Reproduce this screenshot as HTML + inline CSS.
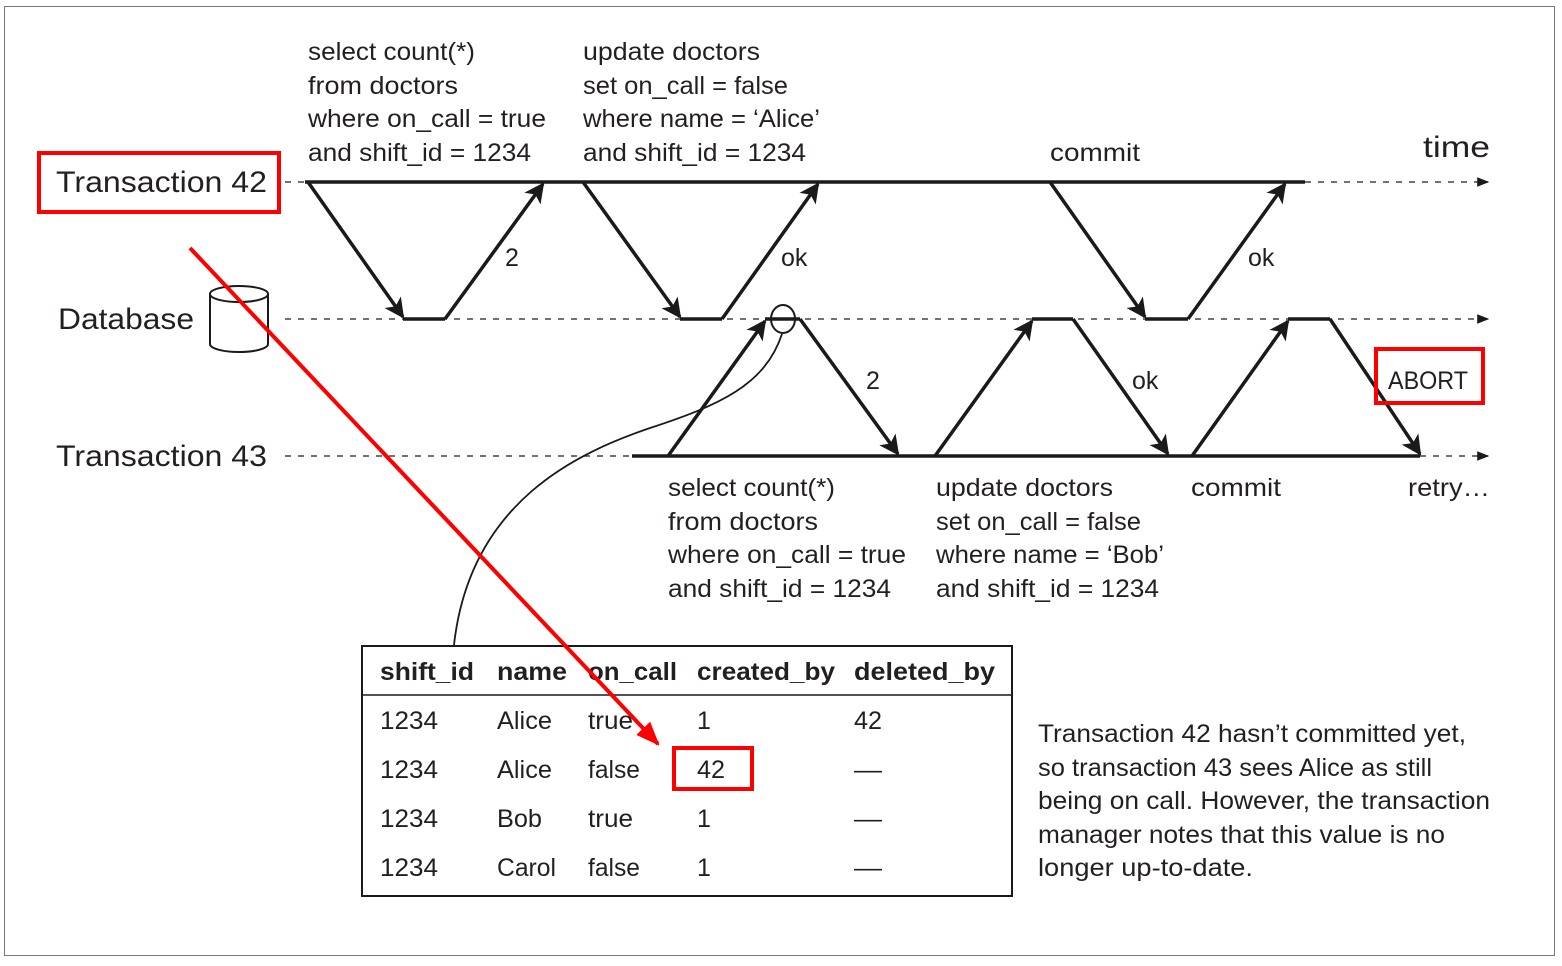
<!DOCTYPE html>
<html><head><meta charset="utf-8"><style>
html,body{margin:0;padding:0;background:#fff;}
svg{display:block;}
text{font-family:"Liberation Sans",sans-serif;fill:#231f20;}
</style></head><body>
<svg width="1562" height="966" viewBox="0 0 1562 966" xmlns="http://www.w3.org/2000/svg">
<defs>
<marker id="ah" viewBox="0 0 20 20" refX="18" refY="10" markerWidth="20" markerHeight="20" markerUnits="userSpaceOnUse" orient="auto">
<path d="M0,0 L20,10 L0,20 L5,10 Z" fill="#1a1a1a"/></marker>
<marker id="sa" viewBox="0 0 10 10" refX="9" refY="5" markerWidth="12" markerHeight="12" markerUnits="userSpaceOnUse" orient="auto">
<path d="M0,1 L10,5 L0,9 Z" fill="#1a1a1a"/></marker>
<marker id="ra" viewBox="0 0 20 20" refX="18" refY="10" markerWidth="24" markerHeight="24" markerUnits="userSpaceOnUse" orient="auto">
<path d="M0,2 L20,10 L0,18 Z" fill="#f00"/></marker>
</defs>
<rect x="4.5" y="6.5" width="1550" height="949" fill="none" stroke="#777" stroke-width="1"/>

<g stroke="#444" stroke-width="1.5" stroke-dasharray="6,7" fill="none">
<line x1="285" y1="182" x2="305" y2="182"/>
<line x1="1305" y1="182" x2="1488" y2="182" marker-end="url(#sa)"/>
<line x1="285" y1="319" x2="1488" y2="319" marker-end="url(#sa)"/>
<line x1="285" y1="456" x2="632" y2="456"/>
<line x1="1420" y1="456" x2="1488" y2="456" marker-end="url(#sa)"/>
</g>
<g stroke="#1a1a1a" stroke-width="3.5" fill="none">
<line x1="305" y1="182" x2="1305" y2="182"/>
<line x1="632" y1="456" x2="1420" y2="456"/>
<line x1="403" y1="319" x2="445" y2="319"/>
<line x1="680" y1="319" x2="722" y2="319"/>
<line x1="1145" y1="319" x2="1188" y2="319"/>
<line x1="765" y1="319" x2="800" y2="319"/>
<line x1="1032" y1="319" x2="1073" y2="319"/>
<line x1="1288" y1="319" x2="1330" y2="319"/>
<line x1="308" y1="182" x2="403" y2="317" marker-end="url(#ah)"/>
<line x1="445" y1="319" x2="543" y2="184" marker-end="url(#ah)"/>
<line x1="583" y1="182" x2="680" y2="317" marker-end="url(#ah)"/>
<line x1="722" y1="319" x2="818" y2="184" marker-end="url(#ah)"/>
<line x1="1050" y1="182" x2="1145" y2="317" marker-end="url(#ah)"/>
<line x1="1188" y1="319" x2="1285" y2="184" marker-end="url(#ah)"/>
<line x1="668" y1="456" x2="765" y2="321" marker-end="url(#ah)"/>
<line x1="800" y1="319" x2="898" y2="454" marker-end="url(#ah)"/>
<line x1="935" y1="456" x2="1032" y2="321" marker-end="url(#ah)"/>
<line x1="1073" y1="319" x2="1168" y2="454" marker-end="url(#ah)"/>
<line x1="1192" y1="456" x2="1288" y2="321" marker-end="url(#ah)"/>
<line x1="1330" y1="319" x2="1420" y2="454" marker-end="url(#ah)"/>
</g>
<ellipse cx="783" cy="319" rx="12" ry="14" fill="none" stroke="#1a1a1a" stroke-width="2"/>
<path d="M782,334 C765,385 720,405 650,428 C580,452 470,500 454,645" fill="none" stroke="#1a1a1a" stroke-width="1.8"/>

<g fill="#fff" stroke="#1a1a1a" stroke-width="2">
<path d="M210,294 L210,344 A29,8 0 0 0 268,344 L268,294"/>
<ellipse cx="239" cy="294" rx="29" ry="8"/>
</g>

<g font-size="30">
<text x="56" y="192" textLength="211" lengthAdjust="spacingAndGlyphs">Transaction 42</text>
<text x="58" y="329" textLength="136" lengthAdjust="spacingAndGlyphs">Database</text>
<text x="56" y="466" textLength="211" lengthAdjust="spacingAndGlyphs">Transaction 43</text>
<text x="1423" y="157" textLength="67" lengthAdjust="spacingAndGlyphs">time</text>
</g>
<g font-size="25">
<text x="308" y="60" textLength="167" lengthAdjust="spacingAndGlyphs">select count(*)</text>
<text x="308" y="94" textLength="150" lengthAdjust="spacingAndGlyphs">from doctors</text>
<text x="308" y="127" textLength="238" lengthAdjust="spacingAndGlyphs">where on_call = true</text>
<text x="308" y="161" textLength="223" lengthAdjust="spacingAndGlyphs">and shift_id = 1234</text>
<text x="583" y="60" textLength="177" lengthAdjust="spacingAndGlyphs">update doctors</text>
<text x="583" y="94" textLength="205" lengthAdjust="spacingAndGlyphs">set on_call = false</text>
<text x="583" y="127" textLength="237" lengthAdjust="spacingAndGlyphs">where name = ‘Alice’</text>
<text x="583" y="161" textLength="223" lengthAdjust="spacingAndGlyphs">and shift_id = 1234</text>
<text x="1050" y="161" textLength="90" lengthAdjust="spacingAndGlyphs">commit</text>
<text x="505" y="266">2</text>
<text x="781" y="266">ok</text>
<text x="1248" y="266">ok</text>
<text x="866" y="389">2</text>
<text x="1132" y="389">ok</text>
<text x="668" y="496" textLength="167" lengthAdjust="spacingAndGlyphs">select count(*)</text>
<text x="668" y="530" textLength="150" lengthAdjust="spacingAndGlyphs">from doctors</text>
<text x="668" y="563" textLength="238" lengthAdjust="spacingAndGlyphs">where on_call = true</text>
<text x="668" y="597" textLength="223" lengthAdjust="spacingAndGlyphs">and shift_id = 1234</text>
<text x="936" y="496" textLength="177" lengthAdjust="spacingAndGlyphs">update doctors</text>
<text x="936" y="530" textLength="205" lengthAdjust="spacingAndGlyphs">set on_call = false</text>
<text x="936" y="563" textLength="228" lengthAdjust="spacingAndGlyphs">where name = ‘Bob’</text>
<text x="936" y="597" textLength="223" lengthAdjust="spacingAndGlyphs">and shift_id = 1234</text>
<text x="1191" y="496" textLength="90" lengthAdjust="spacingAndGlyphs">commit</text>
<text x="1408" y="496" textLength="82" lengthAdjust="spacingAndGlyphs">retry…</text>
<text x="1388" y="389" textLength="80" lengthAdjust="spacingAndGlyphs">ABORT</text>
<text x="1038" y="742" textLength="428" lengthAdjust="spacingAndGlyphs">Transaction 42 hasn’t committed yet,</text>
<text x="1038" y="776" textLength="394" lengthAdjust="spacingAndGlyphs">so transaction 43 sees Alice as still</text>
<text x="1038" y="809" textLength="452" lengthAdjust="spacingAndGlyphs">being on call. However, the transaction</text>
<text x="1038" y="843" textLength="407" lengthAdjust="spacingAndGlyphs">manager notes that this value is no</text>
<text x="1038" y="876" textLength="215" lengthAdjust="spacingAndGlyphs">longer up-to-date.</text>
</g>

<rect x="362" y="646" width="650" height="250" fill="none" stroke="#1a1a1a" stroke-width="2"/>
<line x1="362" y1="695" x2="1012" y2="695" stroke="#1a1a1a" stroke-width="1.5"/>
<g font-size="25" font-weight="bold">
<text x="380" y="680" textLength="94" lengthAdjust="spacingAndGlyphs">shift_id</text>
<text x="497" y="680" textLength="70" lengthAdjust="spacingAndGlyphs">name</text>
<text x="588" y="680" textLength="89" lengthAdjust="spacingAndGlyphs">on_call</text>
<text x="697" y="680" textLength="138" lengthAdjust="spacingAndGlyphs">created_by</text>
<text x="854" y="680" textLength="141" lengthAdjust="spacingAndGlyphs">deleted_by</text>
</g>
<g font-size="25">
<text x="380" y="729" textLength="58" lengthAdjust="spacingAndGlyphs">1234</text>
<text x="497" y="729" textLength="55" lengthAdjust="spacingAndGlyphs">Alice</text>
<text x="588" y="729" textLength="45" lengthAdjust="spacingAndGlyphs">true</text>
<text x="697" y="729">1</text>
<text x="854" y="729" textLength="28" lengthAdjust="spacingAndGlyphs">42</text>
<text x="380" y="778" textLength="58" lengthAdjust="spacingAndGlyphs">1234</text>
<text x="497" y="778" textLength="55" lengthAdjust="spacingAndGlyphs">Alice</text>
<text x="588" y="778" textLength="52" lengthAdjust="spacingAndGlyphs">false</text>
<text x="697" y="778" textLength="28" lengthAdjust="spacingAndGlyphs">42</text>
<text x="854" y="778" textLength="28" lengthAdjust="spacingAndGlyphs">—</text>
<text x="380" y="827" textLength="58" lengthAdjust="spacingAndGlyphs">1234</text>
<text x="497" y="827" textLength="45" lengthAdjust="spacingAndGlyphs">Bob</text>
<text x="588" y="827" textLength="45" lengthAdjust="spacingAndGlyphs">true</text>
<text x="697" y="827">1</text>
<text x="854" y="827" textLength="28" lengthAdjust="spacingAndGlyphs">—</text>
<text x="380" y="876" textLength="58" lengthAdjust="spacingAndGlyphs">1234</text>
<text x="497" y="876" textLength="59" lengthAdjust="spacingAndGlyphs">Carol</text>
<text x="588" y="876" textLength="52" lengthAdjust="spacingAndGlyphs">false</text>
<text x="697" y="876">1</text>
<text x="854" y="876" textLength="28" lengthAdjust="spacingAndGlyphs">—</text>
</g>

<g fill="none" stroke="#f00" stroke-width="4">
<rect x="39" y="153" width="240" height="59"/>
<rect x="1376" y="349" width="107" height="54"/>
<rect x="674" y="748" width="78" height="41"/>
<line x1="190" y1="248" x2="658" y2="744" marker-end="url(#ra)"/>
</g>
</svg>
</body></html>
